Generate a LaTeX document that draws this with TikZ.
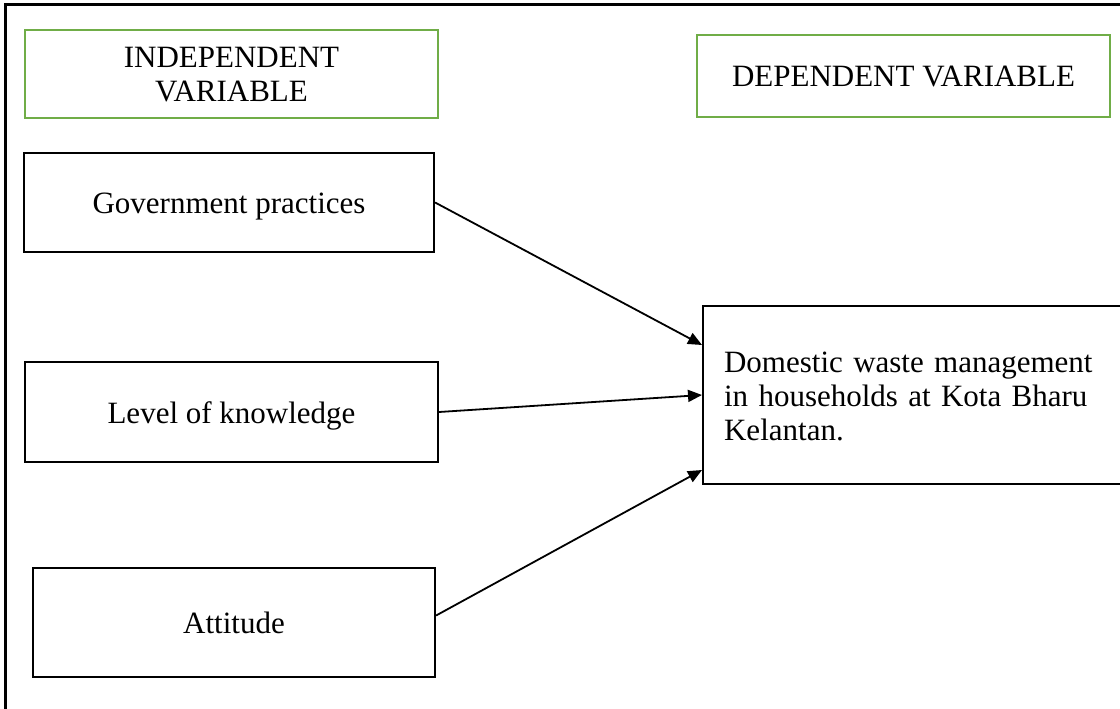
\documentclass[tikz,border=0pt]{standalone}
\usepackage{fontspec}
\setmainfont{Liberation Serif}
\usetikzlibrary{arrows.meta}
\definecolor{boxgreen}{HTML}{70AD47}
\tikzset{
  x=1pt, y=-1pt,
  every node/.style={font=\fontsize{31}{34}\selectfont, inner sep=0pt},
  varbox/.style={draw=boxgreen, line width=2.2pt, align=center},
  ivbox/.style={draw=black, line width=2.2pt, align=center},
  oneline/.style={text height=22pt, text depth=0pt},
  link/.style={line width=1.8pt, -{Triangle[length=14pt,width=12pt]}}
}
\begin{document}
\begin{tikzpicture}
\useasboundingbox (0,0) rectangle (1120,709);
\clip (0,0) rectangle (1120,709);
\draw[line width=3pt] (5,725) -- (5,5) -- (1135,5);
\node[varbox, minimum width=413pt, minimum height=88pt, text height=56pt, text depth=0pt] (iv) at (231.5,74) {INDEPENDENT\\VARIABLE};
\node[varbox, oneline, minimum width=413pt, minimum height=82pt] (dv) at (903.5,76) {DEPENDENT VARIABLE};
\node[ivbox, oneline, minimum width=410pt, minimum height=99pt] (gov) at (229,202.5) {Government practices};
\node[ivbox, oneline, minimum width=413pt, minimum height=100pt] (lvl) at (231.5,412) {Level of knowledge};
\node[ivbox, oneline, minimum width=402pt, minimum height=109pt] (att) at (234,622.5) {Attitude};
\node[ivbox, anchor=west, minimum width=440pt, minimum height=178pt, text width=398pt, align=left, text height=22pt, text depth=68pt] (dom) at (702,395)
  {Domestic waste management\\in households at Kota Bharu\\Kelantan.};
\draw[link] (gov.east) -- ([yshift=50pt]dom.west);
\draw[link] (lvl.east) -- (dom.west);
\draw[link] ([yshift=7pt]att.east) -- ([yshift=-75pt]dom.west);
\end{tikzpicture}
\end{document}
